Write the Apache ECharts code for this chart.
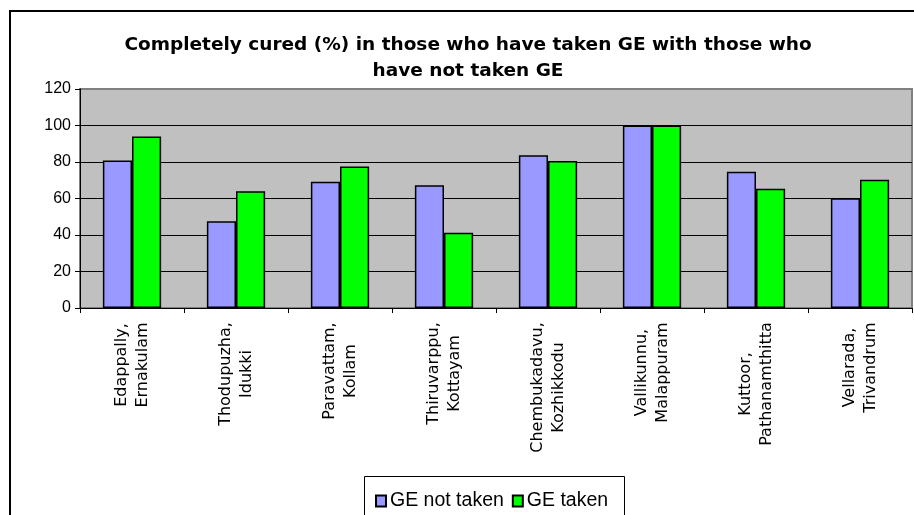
<!DOCTYPE html>
<html>
<head>
<meta charset="utf-8">
<script src="https://cdn.jsdelivr.net/npm/echarts@6/dist/echarts.min.js"></script>
<style>
  html, body { margin: 0; padding: 0; background: #fff; }
  #chart { width: 914px; height: 515px; }
</style>
</head>
<body>
<div id="chart"></div>
<script>
// Survey sites (place, district)
var categories = [
  'Edappally,\nErnakulam',
  'Thodupuzha,\nIdukki',
  'Paravattam,\nKollam',
  'Thiruvarppu,\nKottayam',
  'Chembukadavu,\nKozhikkodu',
  'Vallikunnu,\nMalappuram',
  'Kuttoor,\nPathanamthitta',
  'Vellarada,\nTrivandrum'
];
// Completely cured (%)
var geNotTaken = [80.8, 47.6, 69.2, 67.2, 83.7, 100, 74.6, 60.1];
var geTaken = [94, 64, 77.6, 41.2, 80.6, 100, 65.4, 70.3];
var seriesNames = ['GE not taken', 'GE taken'];
var yTicks = { min: 0, max: 120, interval: 20 };

var labelSize = 16;
var labelFamily = 'DejaVu Sans';

// Centre the two lines of each rotated label within the longer line's width
var ctx = document.createElement('canvas').getContext('2d');
ctx.font = labelSize + 'px "' + labelFamily + '"';
var rich = {};
categories.forEach(function (c, i) {
  var w = Math.max.apply(null, c.split('\n').map(function (s) { return ctx.measureText(s).width; }));
  rich['c' + i] = { width: Math.ceil(w), align: 'center', fontFamily: labelFamily, fontSize: labelSize, color: '#000', lineHeight: 21 };
});

var chart = echarts.init(document.getElementById('chart'));
chart.setOption({
  backgroundColor: '#fff',
  animation: false,
  title: {
    text: 'Completely cured (%) in those who have taken GE with those who\nhave not taken GE',
    left: 463,
    top: 27,
    textAlign: 'center',
    textStyle: {
      fontFamily: 'DejaVu Sans',
      fontWeight: 'bold',
      fontSize: 18.5,
      lineHeight: 26,
      color: '#000'
    }
  },
  graphic: [
    {
      type: 'rect', left: 9, top: 10, z: -10, silent: true,
      shape: { width: 1000, height: 600 },
      style: { fill: '#fff', stroke: '#000', lineWidth: 2 }
    },
    {
      type: 'rect', left: 364, top: 476, z: 0, silent: true,
      shape: { width: 260, height: 100 },
      style: { fill: '#fff', stroke: '#000', lineWidth: 1 }
    }
  ],
  legend: {
    left: 370,
    top: 486,
    itemWidth: 10,
    itemHeight: 11,
    itemGap: 8,
    icon: 'rect',
    z: 5,
    textStyle: { fontFamily: 'Liberation Sans', fontSize: 19.5, color: '#000', padding: [0, 0, 0, -1] },
    data: seriesNames
  },
  grid: {
    left: 80, right: 2, top: 89, bottom: 207,
    show: true,
    backgroundColor: '#c0c0c0',
    borderColor: '#808080',
    borderWidth: 2
  },
  xAxis: {
    type: 'category',
    data: categories,
    axisLine: { lineStyle: { color: '#000', width: 1 } },
    axisTick: { show: true, length: 5, lineStyle: { color: '#000' } },
    axisLabel: {
      rotate: 90,
      interval: 0,
      margin: 14,
      formatter: function (v, i) {
        return v.split('\n').map(function (s) { return '{c' + i + '|' + s + '}'; }).join('\n');
      },
      rich: rich
    }
  },
  yAxis: {
    type: 'value',
    min: yTicks.min,
    max: yTicks.max,
    interval: yTicks.interval,
    axisLine: { show: true, lineStyle: { color: '#000', width: 1 } },
    axisTick: { show: true, length: 5, lineStyle: { color: '#000' } },
    axisLabel: { margin: 9, fontFamily: 'Liberation Sans', fontSize: 16, color: '#000' },
    splitLine: {
      show: true,
      lineStyle: { color: ['#000', '#000', '#000', '#000', '#000', '#000', '#808080'], width: 1 }
    }
  },
  series: [
    {
      name: seriesNames[0],
      type: 'bar',
      data: geNotTaken,
      barGap: '0%',
      barCategoryGap: '44%',
      itemStyle: { color: '#9999ff', borderColor: '#000', borderWidth: 1.5 }
    },
    {
      name: seriesNames[1],
      type: 'bar',
      data: geTaken,
      barGap: '0%',
      barCategoryGap: '44%',
      itemStyle: { color: '#00ff00', borderColor: '#000', borderWidth: 1.5 }
    }
  ]
});
</script>
</body>
</html>
